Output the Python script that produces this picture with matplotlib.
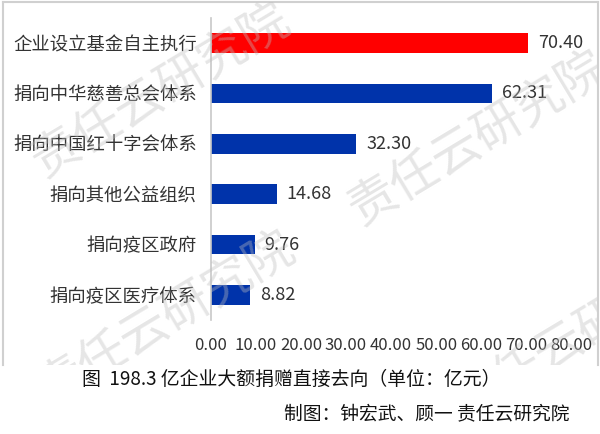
import matplotlib
matplotlib.use("Agg")
import matplotlib.pyplot as plt
from matplotlib.transforms import Bbox, TransformedBbox
from matplotlib.lines import Line2D

plt.rcParams['font.family'] = ['Noto Sans CJK SC', 'DejaVu Sans']

# Data (亿元)
categories = ["企业设立基金自主执行", "捐向中华慈善总会体系", "捐向中国红十字会体系",
              "捐向其他公益组织", "捐向疫区政府", "捐向疫区医疗体系"]
values = [70.40, 62.31, 32.30, 14.68, 9.76, 8.82]
value_labels = ["70.40", "62.31", "32.30", "14.68", "9.76", "8.82"]
x_ticks = [0, 10, 20, 30, 40, 50, 60, 70, 80]
x_tick_labels = ["0.00", "10.00", "20.00", "30.00", "40.00", "50.00", "60.00", "70.00", "80.00"]
title_text = "图  198.3 亿企业大额捐赠直接去向（单位：亿元）"
credit_text = "制图：钟宏武、顾一 责任云研究院"
watermark_text = "责任云研究院"

W, H = 600, 434
fig = plt.figure(figsize=(W / 100, H / 100), dpi=100)
fig.patch.set_facecolor("white")

def fx(px):
    return px / W

def fy(py):
    return 1 - py / H

ax = fig.add_axes([fx(210.7), fy(320), fx(571.6) - fx(210.7), fy(18) - fy(320)])

colors = ["#ff0000"] + ["#0033aa"] * (len(values) - 1)
ypos = list(range(len(categories)))
ax.barh(ypos, values, height=0.39, color=colors, zorder=2)

ax.set_xlim(0, 80)
ax.set_ylim(len(categories) - 0.5, -0.5)
ax.set_yticks(ypos)
ax.set_yticklabels(categories, fontsize=13.2, color="#333333")
ax.set_xticks(x_ticks)
ax.set_xticklabels(x_tick_labels, fontsize=12, color="#333333")
ax.tick_params(axis="both", length=0)
ax.tick_params(axis="y", pad=10)
ax.tick_params(axis="x", pad=12)

for s in ["top", "right", "bottom"]:
    ax.spines[s].set_visible(False)
ax.spines["left"].set_color("#c8c8c8")
ax.spines["left"].set_linewidth(1.2)

for y, v, lab in zip(ypos, values, value_labels):
    ax.annotate(lab, xy=(v, y), xytext=(7, 0), textcoords="offset points",
                ha="left", va="center", fontsize=13, color="#333333")

# Chart frame (top, left, right edges)
frame_kw = dict(color="#d0d0d0", linewidth=1.5, transform=fig.transFigure)
fig.add_artist(Line2D([fx(2.5), fx(597.5)], [fy(1.5), fy(1.5)], **frame_kw))
fig.add_artist(Line2D([fx(2.5), fx(2.5)], [fy(1.5), fy(365)], **frame_kw))
fig.add_artist(Line2D([fx(597.5), fx(597.5)], [fy(1.5), fy(365)], **frame_kw))

# Diagonal watermark, clipped to the chart frame
clip = TransformedBbox(Bbox([[fx(3), fy(365)], [fx(597), fy(2)]]), fig.transFigure)
for cx, cy in [(161, 91), (478, 139), (166, 319), (581, 334)]:
    t = fig.text(fx(cx), fy(cy), watermark_text, fontsize=35, color="#bdbdbd",
                 alpha=0.38, fontweight="light", rotation=31, rotation_mode="anchor",
                 ha="center", va="center", zorder=10)
    t.set_clip_box(clip)
    t.set_clip_on(True)

fig.text(fx(82), fy(379), title_text, fontsize=13.6, color="#111111",
         ha="left", va="center")
fig.text(fx(569), fy(414), credit_text, fontsize=13.5, color="#111111",
         ha="right", va="center")

fig.savefig("out.png", dpi=100)
